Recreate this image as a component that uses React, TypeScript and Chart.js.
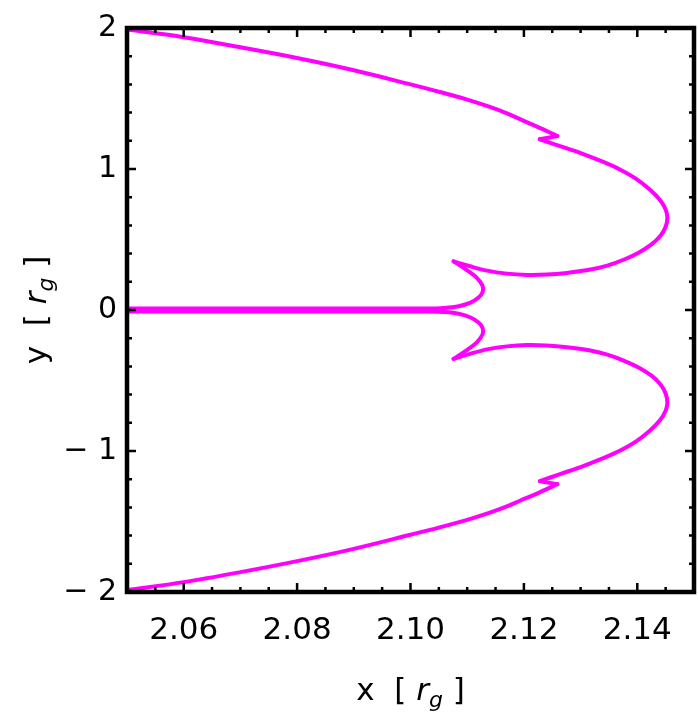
import React, { useEffect, useRef } from "react";
import { Chart, registerables } from "chart.js";

Chart.register(...registerables);

// Upper branch (from top-left, around the lobe, into the centre, back along y≈0)
const upperX = [
  2.05, 2.06, 2.07, 2.08, 2.09, 2.1, 2.105, 2.11, 2.114, 2.117, 2.1194, 2.1223,
  2.1259, 2.1228,
  2.1265, 2.13, 2.134, 2.137, 2.1398, 2.1422, 2.144, 2.145, 2.1453, 2.145, 2.1441,
  2.1425, 2.1403, 2.1378, 2.1347, 2.1315, 2.1276, 2.124, 2.1206, 2.117, 2.1135,
  2.1105, 2.1076,
  2.11, 2.1117, 2.1127, 2.1127, 2.112, 2.1106, 2.1085, 2.106, 2.103, 2.08, 2.05,
];
const upperY = [
  1.99, 1.935, 1.863, 1.787, 1.7, 1.6, 1.548, 1.492, 1.44, 1.395, 1.352, 1.301,
  1.234, 1.211,
  1.16, 1.113, 1.05, 0.995, 0.93, 0.854, 0.78, 0.713, 0.655, 0.59, 0.526,
  0.465, 0.408, 0.36, 0.315, 0.285, 0.263, 0.251, 0.249, 0.258, 0.279,
  0.31, 0.345,
  0.281, 0.228, 0.172, 0.125, 0.088, 0.052, 0.027, 0.015, 0.011, 0.011, 0.011,
];
// Lower branch
const lowerX = [
  2.05, 2.06, 2.07, 2.08, 2.09, 2.1, 2.105, 2.11, 2.114, 2.117, 2.1194, 2.1223,
  2.1259, 2.1228,
  2.1265, 2.13, 2.134, 2.137, 2.1398, 2.1422, 2.144, 2.145, 2.1453, 2.145, 2.1441,
  2.1425, 2.1403, 2.1378, 2.1347, 2.1315, 2.1276, 2.124, 2.1206, 2.117, 2.1135,
  2.1105, 2.1076,
  2.11, 2.1117, 2.1127, 2.1127, 2.112, 2.1106, 2.1085, 2.106, 2.103, 2.08, 2.05,
];
const lowerY = [
  -1.987, -1.93, -1.859, -1.781, -1.694, -1.594, -1.543, -1.488, -1.437, -1.393, -1.351, -1.302,
  -1.235, -1.214,
  -1.162, -1.114, -1.051, -0.997, -0.932, -0.856, -0.782, -0.714, -0.658, -0.592, -0.528,
  -0.466, -0.41, -0.362, -0.317, -0.286, -0.264, -0.252, -0.249, -0.258, -0.279,
  -0.311, -0.347,
  -0.282, -0.229, -0.173, -0.126, -0.089, -0.053, -0.027, -0.015, -0.011, -0.011, -0.011,
];
// indices of sharp corners (zigzag tip, zigzag return, inner cusp)
const cornerIndices = [12, 13, 36];

const xTickValues = [2.06, 2.08, 2.1, 2.12, 2.14];
const xTickLabels = ["2.06", "2.08", "2.10", "2.12", "2.14"];
const yTickValues = [-2, -1, 0, 1, 2];
const yTickLabels = ["\u2212 2", "\u2212 1", "0", "1", "2"];
const X_MIN = 2.05;
const X_MAX = 2.15;
const Y_MIN = -2;
const Y_MAX = 2;
const X_MINOR_STEP = 0.005;
const Y_MINOR_STEP = 0.2;

const FONT = "'DejaVu Sans', sans-serif";
const LINE_COLOR = "#ff00ff";

type Part = { t: string; italic?: boolean; size: number; dy?: number };

function drawParts(ctx: CanvasRenderingContext2D, parts: Part[], cx: number, cy: number) {
  let total = 0;
  const widths = parts.map((p) => {
    ctx.font = `${p.italic ? "italic " : ""}${p.size}px ${FONT}`;
    const w = ctx.measureText(p.t).width;
    total += w;
    return w;
  });
  let x = cx - total / 2;
  ctx.textAlign = "left";
  ctx.textBaseline = "alphabetic";
  parts.forEach((p, i) => {
    ctx.font = `${p.italic ? "italic " : ""}${p.size}px ${FONT}`;
    ctx.fillText(p.t, x, cy + (p.dy || 0));
    x += widths[i];
  });
}

const titleParts = (v: string): Part[] => [
  { t: v + "  [ ", size: 31 },
  { t: "r", italic: true, size: 31 },
  { t: "g", italic: true, size: 22, dy: 7 },
  { t: " ]", size: 31 },
];

function segments(xs: number[], ys: number[]) {
  const cuts = [0, ...cornerIndices, xs.length - 1];
  const out: { x: number; y: number }[][] = [];
  for (let k = 0; k < cuts.length - 1; k++) {
    const seg: { x: number; y: number }[] = [];
    for (let i = cuts[k]; i <= cuts[k + 1]; i++) seg.push({ x: xs[i], y: ys[i] });
    out.push(seg);
  }
  return out;
}

const framePlugin = {
  id: "framePlugin",
  afterDatasetsDraw(chart: any) {
    const { ctx, chartArea } = chart;
    const { left, right, top, bottom } = chartArea;
    const xs = chart.scales.x;
    const ys = chart.scales.y;
    ctx.save();
    ctx.strokeStyle = "#000";
    ctx.lineCap = "butt";
    ctx.lineWidth = 2.5;
    for (let v = X_MIN; v <= X_MAX + 1e-9; v += X_MINOR_STEP) {
      const px = xs.getPixelForValue(v);
      const isMajor = xTickValues.some((m) => Math.abs(m - v) < 1e-6);
      const len = isMajor ? 9 : 5;
      ctx.beginPath();
      ctx.moveTo(px, bottom);
      ctx.lineTo(px, bottom - len);
      ctx.moveTo(px, top);
      ctx.lineTo(px, top + len);
      ctx.stroke();
    }
    for (let v = Y_MIN; v <= Y_MAX + 1e-9; v += Y_MINOR_STEP) {
      const py = ys.getPixelForValue(v);
      const isMajor = yTickValues.some((m) => Math.abs(m - v) < 1e-6);
      const len = isMajor ? 9 : 5;
      ctx.beginPath();
      ctx.moveTo(left, py);
      ctx.lineTo(left + len, py);
      ctx.moveTo(right, py);
      ctx.lineTo(right - len, py);
      ctx.stroke();
    }
    ctx.lineWidth = 4.5;
    ctx.strokeRect(left, top, right - left, bottom - top);
    ctx.restore();
  },
  afterDraw(chart: any) {
    const { ctx, chartArea } = chart;
    const { left, right, top, bottom } = chartArea;
    ctx.save();
    ctx.fillStyle = "#000";
    drawParts(ctx, titleParts("x"), (left + right) / 2, 700);
    ctx.translate(46, (top + bottom) / 2);
    ctx.rotate(-Math.PI / 2);
    drawParts(ctx, titleParts("y"), 0, 0);
    ctx.restore();
  },
};

export default function App() {
  const ref = useRef<HTMLCanvasElement>(null);
  useEffect(() => {
    document.body.style.margin = "0";
    const canvas = ref.current;
    if (!canvas) return;
    const makeDs = (data: { x: number; y: number }[], name: string) => ({
      label: name,
      data,
      showLine: true,
      borderColor: LINE_COLOR,
      backgroundColor: LINE_COLOR,
      borderWidth: 4,
      pointRadius: 0,
      tension: data.length > 2 ? 0.35 : 0,
      borderJoinStyle: "round",
      borderCapStyle: "round",
      fill: false,
    });
    const datasets = [
      ...segments(upperX, upperY).map((d, i) => makeDs(d, "upper" + i)),
      ...segments(lowerX, lowerY).map((d, i) => makeDs(d, "lower" + i)),
    ];
    const chart = new Chart(canvas, {
      type: "scatter",
      data: { datasets },
      options: {
        responsive: false,
        animation: false,
        events: [],
        layout: { padding: { top: 25, right: 4, left: 0, bottom: 0 } },
        plugins: { legend: { display: false }, tooltip: { enabled: false } },
        scales: {
          x: {
            type: "linear",
            min: X_MIN,
            max: X_MAX,
            grid: { display: false, drawTicks: false },
            border: { display: false },
            afterBuildTicks: (s: any) => {
              s.ticks = xTickValues.map((v) => ({ value: v }));
            },
            afterFit: (s: any) => {
              s.height = 129;
            },
            ticks: {
              autoSkip: false,
              maxRotation: 0,
              padding: 20,
              color: "#000",
              font: { family: FONT, size: 31 },
              callback: (v: any) => {
                const i = xTickValues.findIndex((m) => Math.abs(m - Number(v)) < 1e-9);
                return i >= 0 ? xTickLabels[i] : "";
              },
            },
          },
          y: {
            type: "linear",
            min: Y_MIN,
            max: Y_MAX,
            grid: { display: false, drawTicks: false },
            border: { display: false },
            afterBuildTicks: (s: any) => {
              s.ticks = yTickValues.map((v) => ({ value: v }));
            },
            afterFit: (s: any) => {
              s.width = 127;
            },
            ticks: {
              autoSkip: false,
              padding: 10,
              color: "#000",
              font: { family: FONT, size: 30 },
              callback: (v: any) => {
                const i = yTickValues.findIndex((m) => Math.abs(m - Number(v)) < 1e-9);
                return i >= 0 ? yTickLabels[i] : "";
              },
            },
          },
        },
      },
      plugins: [framePlugin],
    } as any);
    return () => chart.destroy();
  }, []);
  return <canvas ref={ref} width={698} height={721} style={{ display: "block", width: 698, height: 721 }} />;
}
